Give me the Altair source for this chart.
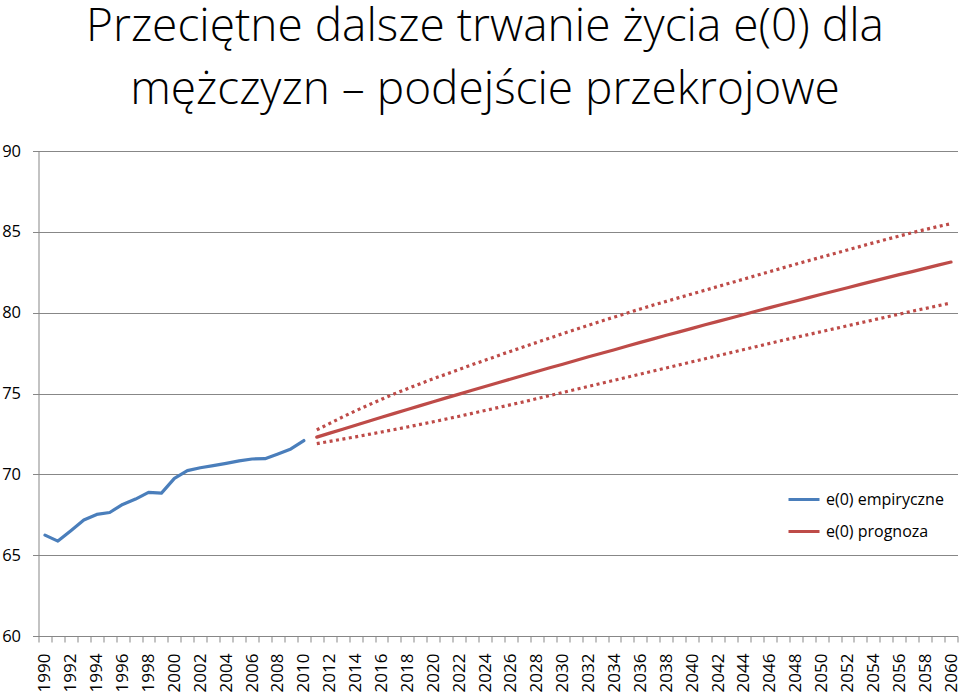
import altair as alt
import pandas as pd

# ---- data ----
title_lines = ["Przeciętne dalsze trwanie życia e(0) dla", "mężczyzn – podejście przekrojowe"]
series_names = ["e(0) empiryczne", "e(0) prognoza"]
bound_names = ["górna granica", "dolna granica"]

years_emp = list(range(1990, 2011))
e0_emp = [66.24, 65.87, 66.51, 67.17, 67.52, 67.64, 68.14, 68.47, 68.88, 68.84,
          69.75, 70.23, 70.41, 70.54, 70.68, 70.83, 70.95, 70.97, 71.26, 71.57, 72.09]

years_fc = list(range(2011, 2061))
e0_central = [72.30, 72.55, 72.79, 73.04, 73.28, 73.53, 73.77, 74.01, 74.25, 74.49,
              74.73, 74.96, 75.20, 75.43, 75.66, 75.90, 76.13, 76.36, 76.59, 76.81,
              77.04, 77.27, 77.49, 77.71, 77.94, 78.16, 78.38, 78.60, 78.81, 79.03,
              79.25, 79.46, 79.67, 79.89, 80.10, 80.31, 80.52, 80.72, 80.93, 81.14,
              81.34, 81.54, 81.75, 81.95, 82.15, 82.35, 82.54, 82.74, 82.94, 83.13]
e0_upper = [72.75, 73.15, 73.55, 73.93, 74.29, 74.64, 74.98, 75.30, 75.61, 75.91,
            76.20, 76.49, 76.78, 77.06, 77.34, 77.62, 77.89, 78.16, 78.43, 78.70,
            78.96, 79.22, 79.48, 79.73, 79.98, 80.23, 80.47, 80.70, 80.93, 81.16,
            81.39, 81.62, 81.85, 82.08, 82.31, 82.54, 82.77, 83.00, 83.22, 83.44,
            83.66, 83.88, 84.10, 84.32, 84.53, 84.74, 84.95, 85.14, 85.33, 85.50]
e0_lower = [71.90, 72.04, 72.18, 72.32, 72.47, 72.62, 72.77, 72.93, 73.09, 73.25,
            73.42, 73.59, 73.77, 73.95, 74.13, 74.31, 74.49, 74.68, 74.87, 75.06,
            75.25, 75.44, 75.63, 75.82, 76.01, 76.20, 76.39, 76.58, 76.77, 76.96,
            77.15, 77.34, 77.53, 77.72, 77.91, 78.10, 78.29, 78.47, 78.65, 78.83,
            79.01, 79.19, 79.37, 79.55, 79.73, 79.91, 80.09, 80.26, 80.43, 80.60]

x_label_years = list(range(1990, 2061, 2))
all_years = list(range(1990, 2061))
y_ticks = [60, 65, 70, 75, 80, 85, 90]

# ---- tables ----
main_df = pd.DataFrame({
    "year": years_emp + years_fc,
    "value": e0_emp + e0_central,
    "series": [series_names[0]] * len(years_emp) + [series_names[1]] * len(years_fc),
})
band_df = pd.DataFrame({
    "year": years_fc + years_fc,
    "value": e0_upper + e0_lower,
    "bound": [bound_names[0]] * len(years_fc) + [bound_names[1]] * len(years_fc),
})

# category edges (ticks between categories, like a category axis)
category_edges = [y - 0.5 for y in all_years] + [all_years[-1] + 0.5]

BLUE = "#4A7EBB"
RED = "#BE4B48"
GRID = "#878787"
FONT = "Open Sans"

x_scale = alt.Scale(domain=[all_years[0] - 0.5, all_years[-1] + 0.5], nice=False, zero=False)
y_scale = alt.Scale(domain=[y_ticks[0], y_ticks[-1]], nice=False, zero=False)

y_axis = alt.Axis(values=y_ticks, title=None, grid=True, gridColor=GRID, gridWidth=1,
                  domain=True, domainColor=GRID, domainWidth=1,
                  ticks=True, tickColor=GRID, tickSize=6, tickWidth=1,
                  labelPadding=12, labelFontSize=16.5, labelFont=FONT, labelColor="black")

lines = alt.Chart(main_df).mark_line(strokeWidth=3.2, strokeJoin="round", strokeCap="round").encode(
    x=alt.X("year:Q", scale=x_scale,
            axis=alt.Axis(values=category_edges, labels=False, ticks=True, tickSize=6,
                          tickColor=GRID, tickWidth=1, domain=True, domainColor=GRID,
                          domainWidth=1, grid=False, title=None, orient="bottom")),
    y=alt.Y("value:Q", scale=y_scale, axis=y_axis),
    color=alt.Color("series:N",
                    scale=alt.Scale(domain=series_names, range=[BLUE, RED]),
                    legend=alt.Legend(orient="none", legendX=748.5, legendY=331.5,
                                      title=None, symbolType="stroke", symbolSize=961,
                                      symbolStrokeWidth=3, labelFontSize=16, labelFont=FONT,
                                      labelColor="black", labelOffset=5, rowPadding=7,
                                      padding=0)),
)

bands = alt.Chart(band_df).mark_line(strokeWidth=3.2, strokeDash=[3, 3.5], strokeCap="butt",
                                     color=RED).encode(
    x=alt.X("year:Q", scale=x_scale,
            axis=alt.Axis(values=x_label_years, format="d", ticks=False, domain=False,
                          grid=False, title=None, orient="bottom", labelAngle=-90,
                          labelAlign="right", labelBaseline="middle", labelPadding=17,
                          labelFontSize=17, labelFont=FONT, labelColor="black",
                          labelOverlap=False)),
    y=alt.Y("value:Q", scale=y_scale, axis=y_axis),
    detail="bound:N",
)

chart = alt.layer(lines, bands).resolve_axis(x="independent").properties(
    width=919,
    height=485,
    title=alt.TitleParams(text=title_lines, font=FONT, fontWeight=300, fontSize=46,
                          lineHeight=63, anchor="middle", dx=-13, offset=29,
                          color="black", frame="group"),
    autosize=alt.AutoSizeParams(type="none"),
    padding={"left": 38.5, "top": 151, "right": 2.5, "bottom": 58},
    background="white",
).configure_view(stroke=None)

chart.save("out.html", embed_options={"renderer": "svg", "actions": False})
